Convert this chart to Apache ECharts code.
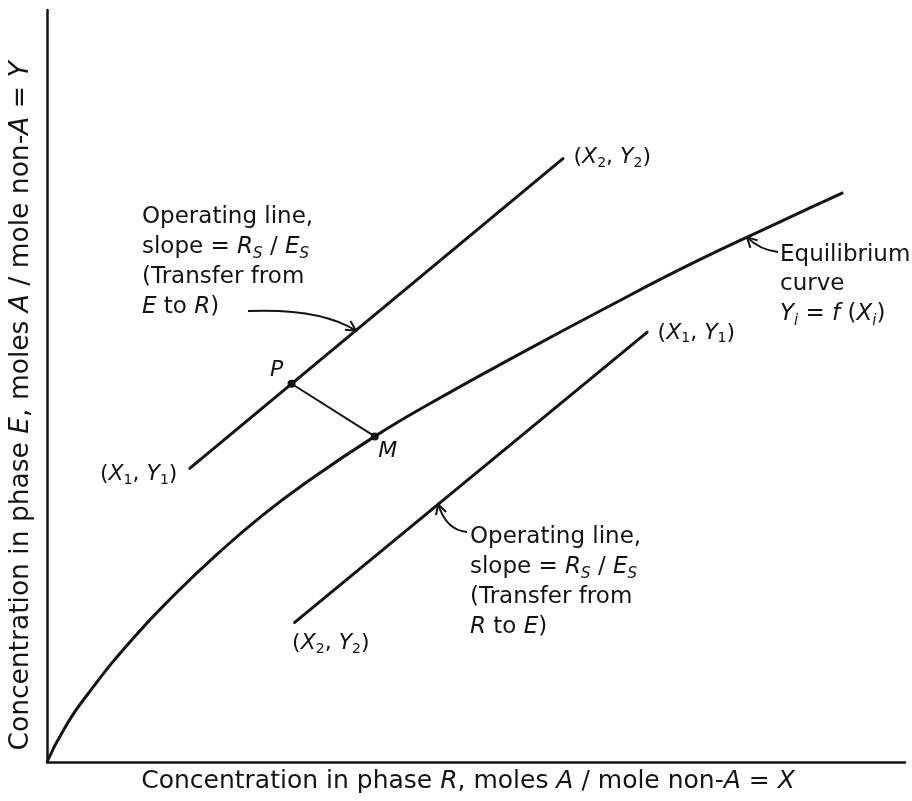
<!DOCTYPE html>
<html>
<head>
<meta charset="utf-8">
<script src="https://cdn.jsdelivr.net/npm/echarts@6/dist/echarts.min.js"></script>
<style>
  html, body { margin: 0; padding: 0; background: #ffffff; }
  #chart { width: 912px; height: 801px; }
</style>
</head>
<body>
<div id="chart"></div>
<script>
// Equilibrium curve, Y_i = f(X_i)
const eqX = [0, 2, 5, 10, 15, 20, 25, 30, 38.2, 45, 55, 65, 75, 85, 92.8];
const eqY = [0, 4.4, 9.4, 16.4, 22.4, 27.8, 32.7, 37.0, 43.3, 47.9, 54.2, 60.3, 66.2, 71.6, 75.7];

// Operating line for transfer from E to R (above the equilibrium curve)
const opUpperX = [16.6, 60.2];
const opUpperY = [39.0, 80.3];
const opUpperEnds = [[1, 1], [2, 2]];

// Operating line for transfer from R to E (below the equilibrium curve)
const opLowerX = [28.8, 70.0];
const opLowerY = [18.5, 57.2];
const opLowerEnds = [[2, 2], [1, 1]];

// Tie line from P (operating line) to M (equilibrium curve)
const tieX = [28.5, 38.2];
const tieY = [50.3, 43.3];
const tieNames = ['P', 'M'];

const FONT = 'DejaVu Sans';
const INK = '#141414';

function pairs(xs, ys) { return xs.map((x, i) => [x, ys[i]]); }

function coordRich(size) {
  return {
    n: { fontFamily: FONT, fontSize: size, color: INK, lineHeight: 26 },
    v: { fontFamily: FONT, fontSize: size, fontStyle: 'italic', color: INK, lineHeight: 26 },
    s: { fontFamily: FONT, fontSize: 14, color: INK, lineHeight: 14, verticalAlign: 'bottom' }
  };
}
function coordText(e) {
  return '{n|(}{v|X}{s|' + e[0] + '}{n|, }{v|Y}{s|' + e[1] + '}{n|)}';
}

const endLabelPlacement = {
  upper: [{ align: 'right', offset: [-12, 6] }, { align: 'left', offset: [10, -1] }],
  lower: [{ align: 'left', offset: [-2, 20] }, { align: 'left', offset: [10, 1] }]
};

function endpointData(xs, ys, ends, placement) {
  return pairs(xs, ys).map((v, i) => ({
    value: v,
    label: {
      show: true,
      position: 'inside',
      align: placement[i].align,
      verticalAlign: 'middle',
      offset: placement[i].offset,
      formatter: coordText(ends[i]),
      rich: coordRich(22)
    }
  }));
}

const tieOffsets = [[-15, -13], [13, 15]];
const tieData = pairs(tieX, tieY).map((v, i) => ({
  value: v,
  label: {
    show: true,
    position: 'inside',
    offset: tieOffsets[i],
    formatter: tieNames[i],
    fontFamily: FONT,
    fontSize: 22,
    fontStyle: 'italic',
    color: INK
  }
}));

const chart = echarts.init(document.getElementById('chart'), null, { renderer: 'canvas' });

chart.setOption({
  backgroundColor: '#ffffff',
  animation: false,
  grid: { left: 46, right: 7, top: 10, bottom: 39 },
  xAxis: {
    type: 'value', min: 0, max: 100,
    axisLine: { show: true, onZero: false, lineStyle: { color: INK, width: 2.5 } },
    axisTick: { show: false }, axisLabel: { show: false }, splitLine: { show: false },
    name: 'Concentration in phase {i|R}, moles {i|A} / mole non-{i|A} = {i|X}',
    nameLocation: 'middle', nameGap: 7,
    nameTextStyle: {
      fontFamily: FONT, fontSize: 25, color: INK,
      padding: [0, 16, 0, 0],
      rich: { i: { fontFamily: FONT, fontSize: 25, fontStyle: 'italic', color: INK } }
    }
  },
  yAxis: {
    type: 'value', min: 0, max: 100,
    axisLine: { show: true, onZero: false, lineStyle: { color: INK, width: 2.5 } },
    axisTick: { show: false }, axisLabel: { show: false }, splitLine: { show: false },
    name: 'Concentration in phase {i|E}, moles {i|A} / mole non-{i|A} = {i|Y}',
    nameLocation: 'middle', nameGap: 12, nameRotate: 90,
    nameTextStyle: {
      fontFamily: FONT, fontSize: 26.5, color: INK,
      padding: [0, 40, 0, 0],
      rich: { i: { fontFamily: FONT, fontSize: 26.5, fontStyle: 'italic', color: INK } }
    }
  },
  series: [
    {
      name: 'Equilibrium curve', type: 'line', smooth: 0.5,
      symbol: 'none', data: pairs(eqX, eqY),
      lineStyle: { color: INK, width: 3 }, z: 3
    },
    {
      name: 'Operating line E to R', type: 'line',
      symbol: 'circle', symbolSize: 2, itemStyle: { color: INK },
      data: endpointData(opUpperX, opUpperY, opUpperEnds, endLabelPlacement.upper),
      lineStyle: { color: INK, width: 3 }, z: 3
    },
    {
      name: 'Operating line R to E', type: 'line',
      symbol: 'circle', symbolSize: 2, itemStyle: { color: INK },
      data: endpointData(opLowerX, opLowerY, opLowerEnds, endLabelPlacement.lower),
      lineStyle: { color: INK, width: 3 }, z: 3
    },
    {
      name: 'Tie line', type: 'line',
      symbol: 'circle', symbolSize: 8, itemStyle: { color: INK },
      data: tieData,
      lineStyle: { color: INK, width: 2 }, z: 4
    }
  ]
});

// ---- annotations: text blocks with curved pointer arrows ----
function interp(xs, ys, x) {
  for (let i = 0; i < xs.length - 1; i++) {
    if (x >= xs[i] && x <= xs[i + 1]) {
      const t = (x - xs[i]) / (xs[i + 1] - xs[i]);
      return ys[i] + t * (ys[i + 1] - ys[i]);
    }
  }
  return ys[ys.length - 1];
}
function toPx(x, y) { return chart.convertToPixel({ gridIndex: 0 }, [x, y]); }

function arrow(start, ctrl, tip) {
  const dx = tip[0] - ctrl[0], dy = tip[1] - ctrl[1];
  const len = Math.hypot(dx, dy) || 1;
  const ux = dx / len, uy = dy / len;
  const L = 11, a = 0.5;
  const rot = (s) => [ux * Math.cos(s) - uy * Math.sin(s), ux * Math.sin(s) + uy * Math.cos(s)];
  const r1 = rot(a), r2 = rot(-a);
  return [
    {
      type: 'bezierCurve',
      shape: { x1: start[0], y1: start[1], x2: tip[0], y2: tip[1], cpx1: ctrl[0], cpy1: ctrl[1] },
      style: { stroke: INK, lineWidth: 2, fill: null }, z: 10
    },
    {
      type: 'polyline',
      shape: { points: [[tip[0] - L * r1[0], tip[1] - L * r1[1]], tip, [tip[0] - L * r2[0], tip[1] - L * r2[1]]] },
      style: { stroke: INK, lineWidth: 2, fill: null }, z: 10
    }
  ];
}

const blockRich = {
  i: { fontFamily: FONT, fontSize: 23, fontStyle: 'italic', fill: INK, lineHeight: 30 },
  s: { fontFamily: FONT, fontSize: 15, fontStyle: 'italic', fill: INK, lineHeight: 14, verticalAlign: 'bottom' }
};
function block(x, y, lines) {
  return {
    type: 'text', x: x, y: y, z: 10,
    style: {
      text: lines.join('\n'),
      font: '23px "' + FONT + '"',
      fill: INK, lineHeight: 30,
      verticalAlign: 'top', align: 'left',
      rich: blockRich
    }
  };
}

// where each pointer arrow touches its line (x in data units)
const upperTipX = 36.0;
const lowerTipX = 45.6;
const eqTipX = 81.6;

const upperTip = toPx(upperTipX, interp(opUpperX, opUpperY, upperTipX));
const lowerTip = toPx(lowerTipX, interp(opLowerX, opLowerY, lowerTipX));
const eqTip = toPx(eqTipX, interp(eqX, eqY, eqTipX));

const graphics = [
  block(142, 202, [
    'Operating line,',
    'slope = {i|R}{s|S} / {i|E}{s|S}',
    '(Transfer from',
    '{i|E} to {i|R})'
  ]),
  block(470, 522, [
    'Operating line,',
    'slope = {i|R}{s|S} / {i|E}{s|S}',
    '(Transfer from',
    '{i|R} to {i|E})'
  ]),
  {
    type: 'text', x: 780, y: 241, z: 10,
    style: {
      text: 'Equilibrium\ncurve\n{i|Y}{s|i} = {i|f} ({i|X}{s|i})',
      font: '23px "' + FONT + '"', fill: INK, lineHeight: 29,
      verticalAlign: 'top', align: 'left', rich: blockRich
    }
  }
].concat(
  arrow([248, 311], [320, 308], upperTip),
  arrow([467, 532], [446, 530], lowerTip),
  arrow([778, 252], [760, 250], eqTip)
);

chart.setOption({ graphic: graphics });
</script>
</body>
</html>
